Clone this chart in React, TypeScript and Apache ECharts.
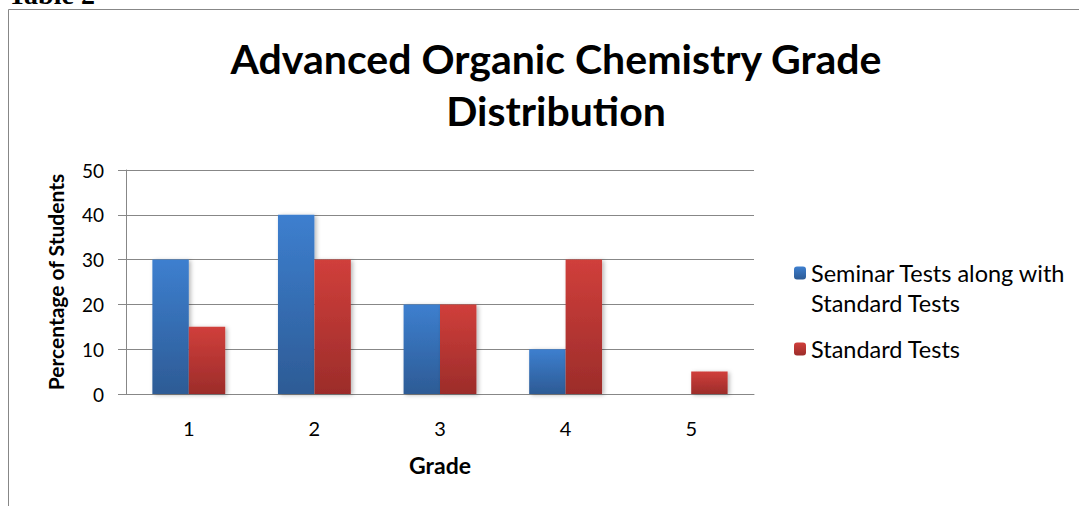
import React, { useEffect, useRef } from "react";
import * as echarts from "echarts";

const grades = ["1", "2", "3", "4", "5"];
const seminarName = "Seminar Tests along with Standard Tests";
const standardName = "Standard Tests";
const seminarValues = [30, 40, 20, 10, 0];
const standardValues = [15, 30, 20, 30, 5];
const yTicks = { min: 0, max: 50, interval: 10 };

const FONT = "Lato, 'Noto Sans', sans-serif";
const GRAY = "#878787";

export default function App() {
  const ref = useRef<HTMLDivElement>(null);
  useEffect(() => {
    if (!ref.current) return;
    const chart = echarts.init(ref.current, null, { renderer: "svg" });
    const blue = new echarts.graphic.LinearGradient(0, 0, 0, 1, [
      { offset: 0, color: "#3d7fcf" },
      { offset: 1, color: "#2d5b95" },
    ]);
    const red = new echarts.graphic.LinearGradient(0, 0, 0, 1, [
      { offset: 0, color: "#d03f3b" },
      { offset: 1, color: "#9c2c2a" },
    ]);
    const shadow = {
      shadowBlur: 4,
      shadowColor: "rgba(0,0,0,0.28)",
      shadowOffsetX: 2,
      shadowOffsetY: 1,
    };
    chart.setOption({
      animation: false,
      backgroundColor: "#ffffff",
      textStyle: { fontFamily: FONT },
      title: {
        text: "Advanced Organic Chemistry Grade\nDistribution",
        left: 551,
        top: 27,
        textAlign: "center",
        textStyle: {
          fontFamily: FONT,
          fontWeight: "bold",
          fontSize: 41,
          lineHeight: 52,
          color: "#000",
        },
      },
      graphic: [
        {
          type: "rect",
          z: -10,
          silent: true,
          shape: { x: 8.5, y: 9.5, width: 1200, height: 700 },
          style: { fill: "none", stroke: GRAY, lineWidth: 1 },
        },
        {
          type: "text",
          x: 8,
          y: 8,
          style: {
            text: "Table 2",
            font: "bold 28px 'Liberation Serif', serif",
            fill: "#000",
            textAlign: "left",
            textVerticalAlign: "bottom",
          },
        },
      ],
      legend: {
        orient: "vertical",
        left: 794,
        top: 228,
        padding: 0,
        itemGap: 16,
        itemWidth: 12,
        itemHeight: 13,
        data: [seminarName, standardName],
        formatter: (name: string) =>
          name === seminarName ? "\nSeminar Tests along with\nStandard Tests" : name,
        textStyle: { fontFamily: FONT, fontSize: 23.5, lineHeight: 30, color: "#000" },
      },
      grid: { left: 126, right: 325, top: 170, bottom: 112 },
      xAxis: {
        type: "category",
        data: grades,
        name: "Grade",
        nameLocation: "middle",
        nameGap: 59,
        nameTextStyle: { fontFamily: FONT, fontWeight: "bold", fontSize: 23, color: "#000" },
        axisLine: { lineStyle: { color: GRAY, width: 1 } },
        axisTick: { show: false },
        axisLabel: { fontFamily: FONT, fontSize: 20, color: "#000", margin: 24 },
      },
      yAxis: {
        type: "value",
        min: yTicks.min,
        max: yTicks.max,
        interval: yTicks.interval,
        name: "Percentage of Students",
        nameLocation: "middle",
        nameGap: 60,
        nameTextStyle: { fontFamily: FONT, fontWeight: "bold", fontSize: 21, color: "#000" },
        axisLine: { show: true, lineStyle: { color: GRAY, width: 1 } },
        axisTick: { show: true, length: 8, lineStyle: { color: GRAY } },
        axisLabel: { fontFamily: FONT, fontSize: 19, color: "#000", margin: 22 },
        splitLine: { lineStyle: { color: GRAY, width: 1 } },
      },
      series: [
        {
          name: seminarName,
          type: "bar",
          data: seminarValues,
          barGap: "0%",
          barCategoryGap: "42%",
          itemStyle: { color: blue, ...shadow },
        },
        {
          name: standardName,
          type: "bar",
          data: standardValues,
          barGap: "0%",
          barCategoryGap: "42%",
          itemStyle: { color: red, ...shadow },
        },
      ],
    });
    return () => chart.dispose();
  }, []);
  return (
    <div
      ref={ref}
      style={{ position: "fixed", left: 0, top: 0, width: 1079, height: 506 }}
    />
  );
}
